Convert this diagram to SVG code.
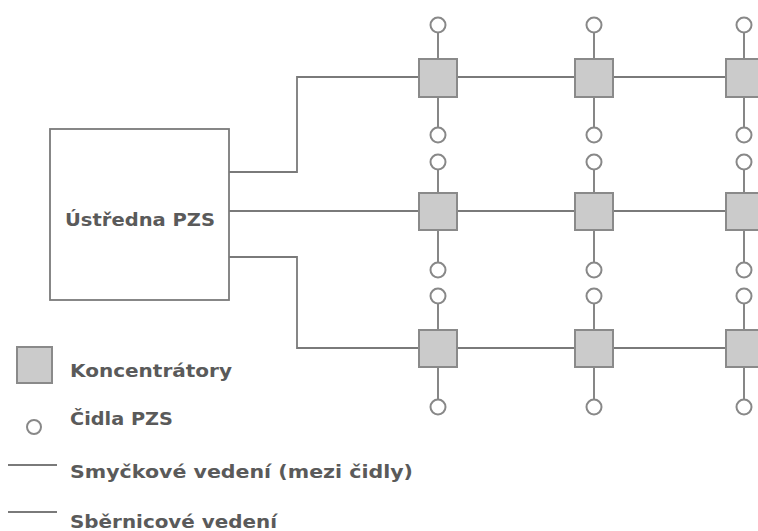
<svg xmlns="http://www.w3.org/2000/svg" width="758" height="531" viewBox="0 0 758 531">
<defs>
<style>
.ln{stroke:#7a7a7a;stroke-width:1.8;fill:none}
.conc{fill:#cbcbcb;stroke:#8a8a8a;stroke-width:2}
.cid{fill:#fff;stroke:#888;stroke-width:2}
.box{fill:#fff;stroke:#7a7a7a;stroke-width:1.8}
.t{font-family:"DejaVu Sans","Liberation Sans",sans-serif;font-weight:bold;font-size:18.5px;fill:#5a5a5a}
</style>
</defs>
<rect width="758" height="531" fill="#fff"/>
<g id="connectors">
<path class="ln" d="M229 172H297V77H758"/>
<path class="ln" d="M229 211H758"/>
<path class="ln" d="M229 257H297V348H758"/>
<path class="ln" d="M438 32V97M438 97V128M438 169V211M438 211V263M438 303V348M438 348V400"/>
<path class="ln" d="M594 32V97M594 97V128M594 169V211M594 211V263M594 303V348M594 348V400"/>
<path class="ln" d="M744 32V97M744 97V128M744 169V211M744 211V263M744 303V348M744 348V400"/>
</g>
<g id="ustredna"><rect class="box" x="50" y="129" width="179" height="171"/><text class="t" x="65" y="226" textLength="150" lengthAdjust="spacingAndGlyphs">Ústředna PZS</text></g>
<g id="k11"><rect class="conc" x="419" y="59" width="38" height="38"/></g>
<g id="k12"><rect class="conc" x="575" y="59" width="38" height="38"/></g>
<g id="k13"><rect class="conc" x="726" y="59" width="38" height="38"/></g>
<g id="k21"><rect class="conc" x="419" y="193" width="38" height="37"/></g>
<g id="k22"><rect class="conc" x="575" y="193" width="38" height="37"/></g>
<g id="k23"><rect class="conc" x="726" y="193" width="38" height="37"/></g>
<g id="k31"><rect class="conc" x="419" y="330" width="38" height="37"/></g>
<g id="k32"><rect class="conc" x="575" y="330" width="38" height="37"/></g>
<g id="k33"><rect class="conc" x="726" y="330" width="38" height="37"/></g>
<g id="cidla">
<g id="c1"><circle class="cid" cx="438" cy="25" r="7.5"/><circle class="cid" cx="438" cy="135" r="7.5"/><circle class="cid" cx="438" cy="162" r="7.5"/><circle class="cid" cx="438" cy="270" r="7.5"/><circle class="cid" cx="438" cy="296" r="7.5"/><circle class="cid" cx="438" cy="407" r="7.5"/></g>
<g id="c2"><circle class="cid" cx="594" cy="25" r="7.5"/><circle class="cid" cx="594" cy="135" r="7.5"/><circle class="cid" cx="594" cy="162" r="7.5"/><circle class="cid" cx="594" cy="270" r="7.5"/><circle class="cid" cx="594" cy="296" r="7.5"/><circle class="cid" cx="594" cy="407" r="7.5"/></g>
<g id="c3"><circle class="cid" cx="744" cy="25" r="7.5"/><circle class="cid" cx="744" cy="135" r="7.5"/><circle class="cid" cx="744" cy="162" r="7.5"/><circle class="cid" cx="744" cy="270" r="7.5"/><circle class="cid" cx="744" cy="296" r="7.5"/><circle class="cid" cx="744" cy="407" r="7.5"/></g>
</g>
<g id="legend">
<rect class="conc" x="17" y="347" width="35" height="36"/>
<text class="t" x="70" y="377" textLength="162" lengthAdjust="spacingAndGlyphs">Koncentrátory</text>
<circle class="cid" cx="34" cy="427" r="7"/>
<text class="t" x="70" y="425" textLength="103" lengthAdjust="spacingAndGlyphs">Čidla PZS</text>
<line class="ln" x1="8" y1="465" x2="57" y2="465"/>
<text class="t" x="70" y="478" textLength="343" lengthAdjust="spacingAndGlyphs">Smyčkové vedení (mezi čidly)</text>
<line class="ln" x1="8" y1="512" x2="57" y2="512"/>
<text class="t" x="70" y="528" textLength="207" lengthAdjust="spacingAndGlyphs">Sběrnicové vedení</text>
</g>
</svg>
